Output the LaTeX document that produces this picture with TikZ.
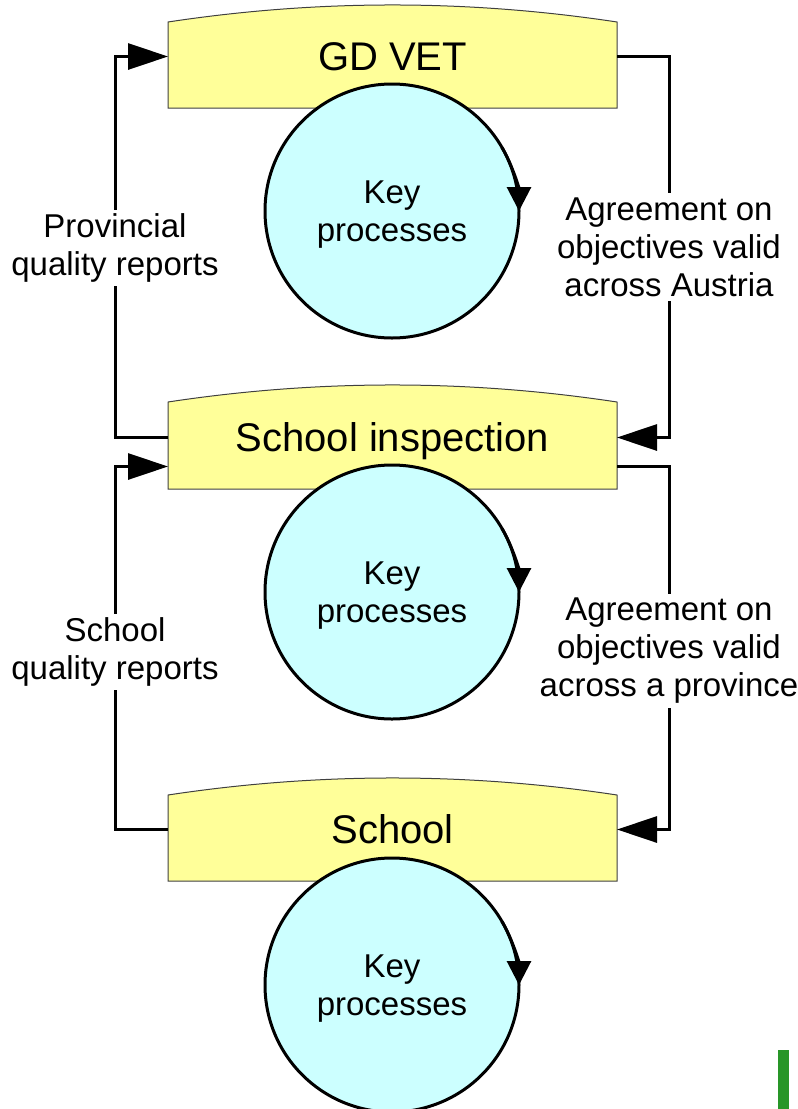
\documentclass[tikz,border=0pt]{standalone}
\usepackage{fontspec}
\setmainfont{Liberation Sans}
\usetikzlibrary{arrows.meta}
\definecolor{boxyellow}{HTML}{FFFF99}
\definecolor{circcyan}{HTML}{CCFFFF}
\definecolor{boxline}{HTML}{404040}
\definecolor{greenbar}{RGB}{40,150,40}
\tikzset{
  boxshape/.style={fill=boxyellow,draw=boxline,line width=1pt},
  boxnode/.style={inner sep=0pt,outer sep=0pt,minimum width=449pt,font=\fontsize{40}{46}\selectfont,text height=28.6pt,text depth=0pt},
  keycirc/.style={circle,fill=circcyan,draw=black,line width=3pt,minimum size=254pt,inner sep=0pt,outer sep=0pt},
  keytext/.style={align=center,inner sep=0pt,font=\fontsize{33}{38}\selectfont},
  circarrow/.style={draw=black,line width=3pt,-{Triangle[length=24pt,width=24pt]}},
  conn/.style={draw=black,line width=3pt,-{Triangle[length=40pt,width=26pt]}},
  sidelabel/.style={fill=white,inner sep=4pt,align=center,font=\fontsize{33}{38}\selectfont}
}
\begin{document}
\begin{tikzpicture}[x=1pt,y=-1pt]
\useasboundingbox (0,0) rectangle (798,1109);
% boxes
\path[boxshape] (168,108) -- (168,22) .. controls (317.7,-0.7) and (467.3,-0.7) .. (617,22) -- (617,108) -- cycle;
\node[boxnode,minimum height=103pt] (b1) at (392.5,56.5) {GD VET};
\path[boxshape] (168,489) -- (168,402) .. controls (317.7,379.3) and (467.3,379.3) .. (617,402) -- (617,489) -- cycle;
\node[boxnode,minimum height=104pt] (b2) at (392.5,437.5) {School inspection};
\path[boxshape] (168,881) -- (168,795) .. controls (317.7,772.3) and (467.3,772.3) .. (617,795) -- (617,881) -- cycle;
\node[boxnode,minimum height=103pt] (b3) at (392.5,829.5) {School};
% circles
\node[keycirc] (c1) at (392,211) {};
\node[keytext] (k1) at (392,215) {Key\\processes};
\draw[circarrow] (c1.30) arc[start angle=30,end angle=0,radius=127pt];
\node[keycirc] (c2) at (392,592) {};
\node[keytext] (k2) at (392,596) {Key\\processes};
\draw[circarrow] (c2.30) arc[start angle=30,end angle=0,radius=127pt];
\node[keycirc] (c3) at (392,985) {};
\node[keytext] (k3) at (392,989) {Key\\processes};
\draw[circarrow] (c3.30) arc[start angle=30,end angle=0,radius=127pt];
% connectors
\draw[conn] (b1.east) -- ++(52,0) |- (b2.east);
\draw[conn] ([yshift=-29pt]b2.east) -- ++(52,0) |- (b3.east);
\draw[conn] (b2.west) -- ++(-53,0) |- (b1.west);
\draw[conn] (b3.west) -- ++(-53,0) |- ([yshift=-29pt]b2.west);
% labels
\node[sidelabel] (l1) at (115,248) {Provincial\\quality reports};
\node[sidelabel] (l2) at (115,652) {School\\quality reports};
\node[sidelabel] (r1) at (669,247) {Agreement on\\objectives valid\\across Austria};
\node[sidelabel] (r2) at (669,651) {Agreement on\\objectives valid\\across a province};
% green bar
\fill[greenbar] (778,1050) rectangle (789,1109);
\end{tikzpicture}
\end{document}
